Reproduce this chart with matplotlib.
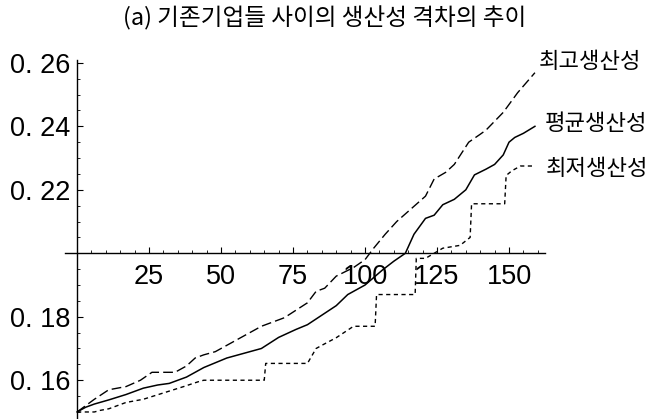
import numpy as np
import matplotlib
matplotlib.use("Agg")
import matplotlib.pyplot as plt
from matplotlib.ticker import MultipleLocator, FixedLocator

plt.rcParams['font.family'] = ['Liberation Sans', 'Noto Sans CJK KR', 'DejaVu Sans']

# values
mean_x = [0, 3, 6, 11, 17, 23, 28, 32, 38, 41, 44, 48, 52, 58, 64, 70, 76, 80, 85, 90,
          94, 100, 106, 110, 114, 117, 121, 124, 127, 131, 135, 138, 142, 145, 148, 150,
          152, 155, 159]
mean_y = [0.150, 0.1515, 0.1525, 0.1538, 0.1555, 0.1575, 0.1585, 0.159, 0.161, 0.1625,
          0.164, 0.1655, 0.167, 0.1685, 0.170, 0.1735, 0.176, 0.1775, 0.1805, 0.1835,
          0.187, 0.190, 0.1947, 0.1975, 0.200, 0.206, 0.211, 0.212, 0.2153, 0.217,
          0.220, 0.2247, 0.2265, 0.228, 0.231, 0.235, 0.2365, 0.2378, 0.240]

max_x = [0, 3, 6, 11, 17, 22, 26, 34, 38, 41, 44, 48, 52, 58, 64, 72, 80, 83, 86, 90,
         96, 100, 103, 107, 111, 116, 121, 124, 128, 131, 136, 140, 142, 148, 153, 159]
max_y = [0.150, 0.152, 0.154, 0.157, 0.158, 0.160, 0.1625, 0.1625, 0.1645, 0.167,
         0.168, 0.169, 0.171, 0.174, 0.177, 0.1797, 0.1844, 0.188, 0.189, 0.1928,
         0.1955, 0.198, 0.2016, 0.206, 0.210, 0.214, 0.218, 0.2234, 0.2255, 0.228,
         0.235, 0.2375, 0.2388, 0.2444, 0.2506, 0.2569]

min_x = [0, 6, 8, 11, 17, 23, 30, 37, 42, 44, 65, 65.5, 80, 83, 85, 90, 96, 103.5, 104,
         117.4, 117.8, 121, 127, 133, 136.5, 137, 148.5, 149, 151, 154, 159]
min_y = [0.150, 0.150, 0.1505, 0.151, 0.153, 0.154, 0.156, 0.158, 0.1595, 0.160, 0.160,
         0.1653, 0.1653, 0.170, 0.171, 0.1734, 0.177, 0.177, 0.187, 0.187, 0.1984,
         0.1984, 0.2016, 0.2025, 0.205, 0.2156, 0.2156, 0.2245, 0.226, 0.2275, 0.2275]

y_ticks = [0.16, 0.18, 0.22, 0.24, 0.26]
y_labels = ["0. 16", "0. 18", "0. 22", "0. 24", "0. 26"]
x_ticks = [25, 50, 75, 100, 125, 150]

title = "(a) 기존기업들 사이의 생산성 격차의 추이"
names = ["최고생산성", "평균생산성", "최저생산성"]

fig = plt.figure(figsize=(6.5, 4.19), dpi=100)
ax = fig.add_axes([65/650, 1/419, 480/650, 358/419])

ax.plot(max_x, max_y, color='black', lw=1.0, dashes=(7, 3))
ax.plot(mean_x, mean_y, color='black', lw=1.1)
ax.plot(min_x, min_y, color='black', lw=1.0, dashes=(3, 2.5))

ax.set_xlim(-4.2, 162.5)
ax.set_ylim(0.1481, 0.2609)

ax.spines['left'].set_position(('data', 0))
ax.spines['bottom'].set_position(('data', 0.2))
ax.spines['top'].set_visible(False)
ax.spines['right'].set_visible(False)
ax.spines['left'].set_linewidth(1.0)
ax.spines['bottom'].set_linewidth(1.0)

ax.yaxis.set_major_locator(FixedLocator(y_ticks))
ax.set_yticklabels(y_labels)
ax.yaxis.set_minor_locator(MultipleLocator(0.005))
ax.xaxis.set_major_locator(FixedLocator(x_ticks))
ax.xaxis.set_minor_locator(MultipleLocator(5))

ax.tick_params(axis='both', which='major', direction='in', length=4, width=0.8,
               labelsize=19.5)
ax.tick_params(axis='both', which='minor', direction='in', length=2, width=0.6)
ax.tick_params(axis='x', which='major', pad=8)
ax.tick_params(axis='y', which='major', pad=5)

ax.patch.set_visible(False)

fig.text(0.5, 1 - 18/419, title, ha='center', va='center', fontsize=17,
         family=['Noto Sans CJK KR', 'DejaVu Sans'], fontweight='medium')

label_pos = [(160.4, 0.2603), (162.3, 0.2409), (162.8, 0.2266)]
for (lx, ly), nm in zip(label_pos, names):
    ax.text(lx, ly, nm, ha='left', va='center', fontsize=16, clip_on=False,
            family=['Noto Sans CJK KR', 'DejaVu Sans'], fontweight='medium')

fig.savefig("out.png", dpi=100)
